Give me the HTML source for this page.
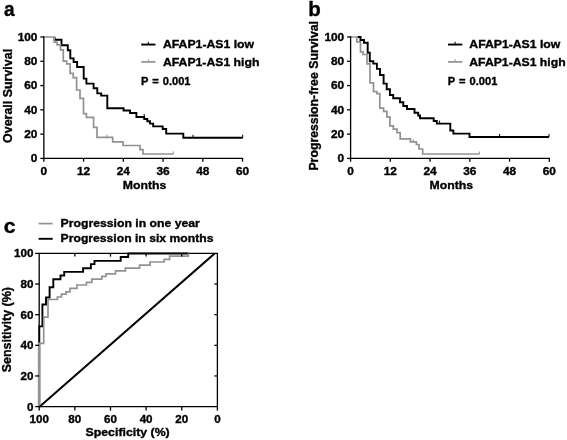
<!DOCTYPE html>
<html><head><meta charset="utf-8"><title>Figure</title>
<style>
html,body{margin:0;padding:0;background:#fff;}
body{width:567px;height:440px;overflow:hidden;font-family:"Liberation Sans",sans-serif;}
svg{display:block;filter:grayscale(1);}
svg text{font-family:"Liberation Sans",sans-serif;font-weight:bold;fill:#000;stroke:#000;stroke-width:0.35px;}
</style></head><body>
<svg width="567" height="440" viewBox="0 0 567 440">
<rect width="567" height="440" fill="#fff"/>
<path d="M54.6,37 V39.8 H61.5 V45.3 H67.8 V50.3 H70.3 V58.4 H73.6 V62 H77.1 V67 H83.7 V78.6 H86.4 V83.6 H93.6 V88.2 H97.3 V93.4 H101.2 V95.6 H107.3 V108.2 H123.6 V110.5 H130 V113 H136.4 V117 H144.2 V119 H147.3 V121.3 H150 V123.6 H153.2 V126.4 H162.7 V129 H166.2 V133.6 H183.3 V137.8 H242.7" fill="none" stroke="#000" stroke-width="1.9"/>
<path d="M144.2,117 v-3" fill="none" stroke="#000" stroke-width="1"/>
<path d="M193,137.8 v-3" fill="none" stroke="#000" stroke-width="1"/>
<path d="M242.7,137.8 v-3" fill="none" stroke="#000" stroke-width="1"/>
<path d="M44,37 H54.2 V42.1 H57.1 V44.8 H60.5 V49.8 H63.3 V61.2 H66.7 V63.9 H70.1 V73.3 H73.2 V77.6 H76.6 V90 H80 V98.4 H83.5 V113.6 H86.4 V117.3 H93.6 V127.3 H97 V137.3 H112.7 V141.8 H123 V145.5 H140 V149.6 H143 V154 H173.3" fill="none" stroke="#929292" stroke-width="1.7"/>
<path d="M107,137.3 v-2.6" fill="none" stroke="#929292" stroke-width="1"/>
<path d="M173.3,154 v-2.6" fill="none" stroke="#929292" stroke-width="1"/>
<path d="M43.85,36.35 V158.4 H243.20000000000002" fill="none" stroke="#000" stroke-width="1.3"/>
<path d="M40.35,158.40 H43.85" stroke="#000" stroke-width="1.3"/>
<text transform="translate(37.45,162.2) scale(1.09,1)" font-size="10.9" text-anchor="end" >0</text>
<path d="M40.35,134.12 H43.85" stroke="#000" stroke-width="1.3"/>
<text transform="translate(37.45,137.92) scale(1.09,1)" font-size="10.9" text-anchor="end" >20</text>
<path d="M40.35,109.84 H43.85" stroke="#000" stroke-width="1.3"/>
<text transform="translate(37.45,113.64) scale(1.09,1)" font-size="10.9" text-anchor="end" >40</text>
<path d="M40.35,85.56 H43.85" stroke="#000" stroke-width="1.3"/>
<text transform="translate(37.45,89.36) scale(1.09,1)" font-size="10.9" text-anchor="end" >60</text>
<path d="M40.35,61.28 H43.85" stroke="#000" stroke-width="1.3"/>
<text transform="translate(37.45,65.08) scale(1.09,1)" font-size="10.9" text-anchor="end" >80</text>
<path d="M40.35,37.00 H43.85" stroke="#000" stroke-width="1.3"/>
<text transform="translate(37.45,40.8) scale(1.09,1)" font-size="10.9" text-anchor="end" >100</text>
<path d="M43.85,158.4 v3.3" stroke="#000" stroke-width="1.3"/>
<text transform="translate(43.85,175.2) scale(1.09,1)" font-size="10.9" text-anchor="middle" >0</text>
<path d="M83.59,158.4 v3.3" stroke="#000" stroke-width="1.3"/>
<text transform="translate(83.59,175.2) scale(1.09,1)" font-size="10.9" text-anchor="middle" >12</text>
<path d="M123.33,158.4 v3.3" stroke="#000" stroke-width="1.3"/>
<text transform="translate(123.33,175.2) scale(1.09,1)" font-size="10.9" text-anchor="middle" >24</text>
<path d="M163.07,158.4 v3.3" stroke="#000" stroke-width="1.3"/>
<text transform="translate(163.07,175.2) scale(1.09,1)" font-size="10.9" text-anchor="middle" >36</text>
<path d="M202.81,158.4 v3.3" stroke="#000" stroke-width="1.3"/>
<text transform="translate(202.81,175.2) scale(1.09,1)" font-size="10.9" text-anchor="middle" >48</text>
<path d="M242.55,158.4 v3.3" stroke="#000" stroke-width="1.3"/>
<text transform="translate(242.55,175.2) scale(1.09,1)" font-size="10.9" text-anchor="middle" >60</text>
<text transform="translate(144.5,188.7) scale(1.065,1)" font-size="11.5" text-anchor="middle" >Months</text>
<text transform="translate(11.6,95.9) rotate(-90) scale(1,0.97)" font-size="12.45" text-anchor="middle" >Overall Survival</text>
<text transform="translate(3.9,15.9) scale(0.93,1)" font-size="20.5" text-anchor="start" >a</text>
<path d="M141.2,44.55 h14.3" stroke="#000" stroke-width="1.9"/>
<path d="M148.29999999999998,44.55 v-2.8" stroke="#000" stroke-width="1"/>
<path d="M141.2,61.9 h14.3" stroke="#929292" stroke-width="1.7"/>
<path d="M148.29999999999998,61.9 v-2.6" stroke="#929292" stroke-width="1"/>
<text transform="translate(163.0,48.1) scale(1.065,1)" font-size="11.5" text-anchor="start" >AFAP1-AS1 low</text>
<text transform="translate(163.0,65.6) scale(1.062,1)" font-size="11.5" text-anchor="start" >AFAP1-AS1 high</text>
<text transform="translate(140.89999999999998,84.9) scale(1.0,1)" font-size="11.1" text-anchor="start" word-spacing="1.0">P = 0.001</text>
<path d="M357.5,37 H360.5 V40 H364 V42.7 H367.7 V52.7 H369.8 V61.2 H373.3 V63.6 H376.9 V68.9 H380 V75 H383.6 V83.6 H386.7 V89.2 H389.9 V95 H393.2 V98.2 H400 V102.2 H403.3 V106 H407 V109 H414.5 V112.7 H418.2 V115.5 H420 V118.2 H433.7 V121 H436.8 V123.6 H450.3 V130.5 H453.4 V133.6 H469.5 V137 H549" fill="none" stroke="#000" stroke-width="1.9"/>
<path d="M439.6,123.6 v-3" fill="none" stroke="#000" stroke-width="1"/>
<path d="M499.6,137 v-3" fill="none" stroke="#000" stroke-width="1"/>
<path d="M549,137 v-3" fill="none" stroke="#000" stroke-width="1"/>
<path d="M350.2,37 H356.8 V41.8 H360.5 V51.8 H363 V54.5 H367 V63.8 H370 V82.9 H373.5 V91.6 H376.9 V93.6 H379.8 V108.2 H383.6 V111.3 H386.9 V116.8 H389.9 V125.8 H393.3 V129.2 H397 V132.7 H400.2 V138.9 H410.4 V141.8 H416.4 V144.5 H419 V149 H422.7 V154 H479.4" fill="none" stroke="#929292" stroke-width="1.7"/>
<path d="M413.3,141.8 v-2.6" fill="none" stroke="#929292" stroke-width="1"/>
<path d="M479.4,154 v-2.6" fill="none" stroke="#929292" stroke-width="1"/>
<path d="M350.60,36.35 V158.4 H549.95" fill="none" stroke="#000" stroke-width="1.3"/>
<path d="M347.10,158.40 H350.6" stroke="#000" stroke-width="1.3"/>
<text transform="translate(344.2,162.2) scale(1.09,1)" font-size="10.9" text-anchor="end" >0</text>
<path d="M347.10,134.12 H350.6" stroke="#000" stroke-width="1.3"/>
<text transform="translate(344.2,137.92) scale(1.09,1)" font-size="10.9" text-anchor="end" >20</text>
<path d="M347.10,109.84 H350.6" stroke="#000" stroke-width="1.3"/>
<text transform="translate(344.2,113.64) scale(1.09,1)" font-size="10.9" text-anchor="end" >40</text>
<path d="M347.10,85.56 H350.6" stroke="#000" stroke-width="1.3"/>
<text transform="translate(344.2,89.36) scale(1.09,1)" font-size="10.9" text-anchor="end" >60</text>
<path d="M347.10,61.28 H350.6" stroke="#000" stroke-width="1.3"/>
<text transform="translate(344.2,65.08) scale(1.09,1)" font-size="10.9" text-anchor="end" >80</text>
<path d="M347.10,37.00 H350.6" stroke="#000" stroke-width="1.3"/>
<text transform="translate(344.2,40.8) scale(1.09,1)" font-size="10.9" text-anchor="end" >100</text>
<path d="M350.60,158.4 v3.3" stroke="#000" stroke-width="1.3"/>
<text transform="translate(350.6,175.2) scale(1.09,1)" font-size="10.9" text-anchor="middle" >0</text>
<path d="M390.34,158.4 v3.3" stroke="#000" stroke-width="1.3"/>
<text transform="translate(390.34,175.2) scale(1.09,1)" font-size="10.9" text-anchor="middle" >12</text>
<path d="M430.08,158.4 v3.3" stroke="#000" stroke-width="1.3"/>
<text transform="translate(430.08,175.2) scale(1.09,1)" font-size="10.9" text-anchor="middle" >24</text>
<path d="M469.82,158.4 v3.3" stroke="#000" stroke-width="1.3"/>
<text transform="translate(469.82,175.2) scale(1.09,1)" font-size="10.9" text-anchor="middle" >36</text>
<path d="M509.56,158.4 v3.3" stroke="#000" stroke-width="1.3"/>
<text transform="translate(509.56,175.2) scale(1.09,1)" font-size="10.9" text-anchor="middle" >48</text>
<path d="M549.30,158.4 v3.3" stroke="#000" stroke-width="1.3"/>
<text transform="translate(549.3,175.2) scale(1.09,1)" font-size="10.9" text-anchor="middle" >60</text>
<text transform="translate(451.25,188.7) scale(1.065,1)" font-size="11.5" text-anchor="middle" >Months</text>
<text transform="translate(318.2,95.8) rotate(-90) scale(1,0.97)" font-size="12.3" text-anchor="middle" >Progression-free Survival</text>
<text transform="translate(308.2,15.9) scale(1.0,1)" font-size="20.5" text-anchor="start" >b</text>
<path d="M448,44.55 h14.3" stroke="#000" stroke-width="1.9"/>
<path d="M455.1,44.55 v-2.8" stroke="#000" stroke-width="1"/>
<path d="M448,61.9 h14.3" stroke="#929292" stroke-width="1.7"/>
<path d="M455.1,61.9 v-2.6" stroke="#929292" stroke-width="1"/>
<text transform="translate(469.3,48.1) scale(1.065,1)" font-size="11.5" text-anchor="start" >AFAP1-AS1 low</text>
<text transform="translate(469.3,65.6) scale(1.062,1)" font-size="11.5" text-anchor="start" >AFAP1-AS1 high</text>
<text transform="translate(447.7,84.9) scale(1.0,1)" font-size="11.1" text-anchor="start" word-spacing="1.0">P = 0.001</text>
<path d="M39.5,406.8 L214.7,253.4" stroke="#000" stroke-width="2.0" fill="none"/>
<path d="M39.2,253.4 H217.4 V406.6 H39.2 Z" fill="none" stroke="#000" stroke-width="1.3"/>
<path d="M39.3,404 V326.4 H42.4 V304.5 H46 V297.5 H49.6 V287.2 H53.3 V279.2 H60.5 V275.5 H64.2 V271.9 H83.1 V268.3 H90.9 V264.1 H94.5 V260.9 H120.7 V257 H128.2 V253.5 H188.3" fill="none" stroke="#000" stroke-width="1.9"/>
<path d="M39.2,343.3 H43.7 V317.2 H48 V299.5 H57.4 V297 H61.5 V294.2 H66 V291.8 H70 V288.3 H76.9 V285 H86.4 V282.3 H91.8 V279.2 H101.8 V276.3 H106 V273.9 H115.5 V270.8 H125.4 V268.2 H139.6 V265.2 H150 V262 H164.2 V259.4 H169.6 V256.2 H188.3 V253.4" fill="none" stroke="#929292" stroke-width="1.7"/>
<path d="M39.0,405.70000000000005 V342.5" fill="none" stroke="#929292" stroke-width="2.4"/>
<path d="M35.2,406.60 H39.2" stroke="#000" stroke-width="1.3"/>
<text transform="translate(33.5,410.6) scale(1.03,1)" font-size="11.3" text-anchor="end" >0</text>
<path d="M35.2,375.96 H39.2" stroke="#000" stroke-width="1.3"/>
<text transform="translate(33.5,379.96) scale(1.03,1)" font-size="11.3" text-anchor="end" >20</text>
<path d="M217.4,375.96 h-3" stroke="#000" stroke-width="1.3"/>
<path d="M35.2,345.32 H39.2" stroke="#000" stroke-width="1.3"/>
<text transform="translate(33.5,349.32) scale(1.03,1)" font-size="11.3" text-anchor="end" >40</text>
<path d="M217.4,345.32 h-3" stroke="#000" stroke-width="1.3"/>
<path d="M35.2,314.68 H39.2" stroke="#000" stroke-width="1.3"/>
<text transform="translate(33.5,318.68) scale(1.03,1)" font-size="11.3" text-anchor="end" >60</text>
<path d="M217.4,314.68 h-3" stroke="#000" stroke-width="1.3"/>
<path d="M35.2,284.04 H39.2" stroke="#000" stroke-width="1.3"/>
<text transform="translate(33.5,288.04) scale(1.03,1)" font-size="11.3" text-anchor="end" >80</text>
<path d="M217.4,284.04 h-3" stroke="#000" stroke-width="1.3"/>
<path d="M35.2,253.40 H39.2" stroke="#000" stroke-width="1.3"/>
<text transform="translate(33.5,257.4) scale(1.03,1)" font-size="11.3" text-anchor="end" >100</text>
<path d="M39.20,406.6 v4" stroke="#000" stroke-width="1.3"/>
<text transform="translate(39.2,423.0) scale(1.03,1)" font-size="11.3" text-anchor="middle" >100</text>
<path d="M74.84,406.6 v4" stroke="#000" stroke-width="1.3"/>
<text transform="translate(74.84,423.0) scale(1.03,1)" font-size="11.3" text-anchor="middle" >80</text>
<path d="M74.84,253.4 v3.2" stroke="#000" stroke-width="1.3"/>
<path d="M110.48,406.6 v4" stroke="#000" stroke-width="1.3"/>
<text transform="translate(110.48,423.0) scale(1.03,1)" font-size="11.3" text-anchor="middle" >60</text>
<path d="M110.48,253.4 v3.2" stroke="#000" stroke-width="1.3"/>
<path d="M146.12,406.6 v4" stroke="#000" stroke-width="1.3"/>
<text transform="translate(146.12,423.0) scale(1.03,1)" font-size="11.3" text-anchor="middle" >40</text>
<path d="M146.12,253.4 v3.2" stroke="#000" stroke-width="1.3"/>
<path d="M181.76,406.6 v4" stroke="#000" stroke-width="1.3"/>
<text transform="translate(181.76,423.0) scale(1.03,1)" font-size="11.3" text-anchor="middle" >20</text>
<path d="M181.76,253.4 v3.2" stroke="#000" stroke-width="1.3"/>
<path d="M217.40,406.6 v4" stroke="#000" stroke-width="1.3"/>
<text transform="translate(217.4,423.0) scale(1.03,1)" font-size="11.3" text-anchor="middle" >0</text>
<text transform="translate(127.6,435.8) scale(1.1,1)" font-size="11.2" text-anchor="middle" >Specificity (%)</text>
<text transform="translate(11.0,329.7) rotate(-90) scale(1,0.98)" font-size="12.5" text-anchor="middle" >Sensitivity (%)</text>
<text transform="translate(3.8,233.4) scale(1.04,1)" font-size="20.5" text-anchor="start" >c</text>
<path d="M38.6,223.6 h14.1" stroke="#929292" stroke-width="1.7"/>
<path d="M38.6,238.8 h14.1" stroke="#000" stroke-width="1.9"/>
<text transform="translate(60.6,227.1) scale(1.092,1)" font-size="11.2" text-anchor="start" >Progression in one year</text>
<text transform="translate(60.6,242.2) scale(1.088,1)" font-size="11.2" text-anchor="start" >Progression in six months</text>
</svg>
</body></html>
